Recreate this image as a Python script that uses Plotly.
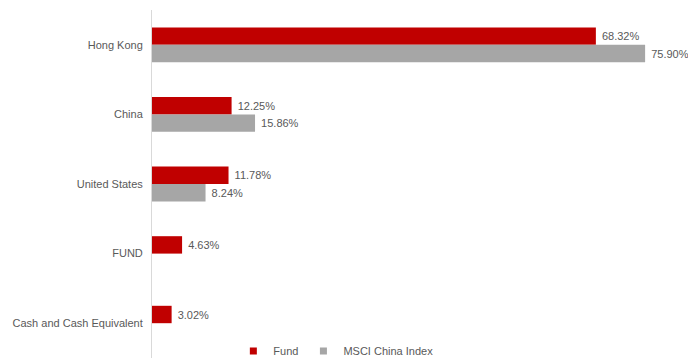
import plotly.graph_objects as go

categories = ["Hong Kong", "China", "United States", "FUND", "Cash and Cash Equivalent"]
fund_values = [68.32, 12.25, 11.78, 4.63, 3.02]
index_cats = ["Hong Kong", "China", "United States"]
index_values = [75.90, 15.86, 8.24]

FUND_COLOR = "#c00000"
INDEX_COLOR = "#a6a6a6"
TEXT_COLOR = "#595959"
FONT = "Liberation Sans, Arial"

fig = go.Figure()
fig.add_trace(go.Bar(
    y=categories, x=fund_values, orientation="h", name="Fund", showlegend=False,
    marker=dict(color=FUND_COLOR, line=dict(width=0)),
    texttemplate="\u00a0%{x:.2f}%", textposition="outside",
    textfont=dict(size=11, color=TEXT_COLOR, family=FONT),
    cliponaxis=False,
))
fig.add_trace(go.Bar(
    y=index_cats, x=index_values, orientation="h", name="MSCI China Index", showlegend=False,
    marker=dict(color=INDEX_COLOR, line=dict(width=0)),
    texttemplate="\u00a0%{x:.2f}%", textposition="outside",
    textfont=dict(size=11, color=TEXT_COLOR, family=FONT),
    cliponaxis=False,
))
# legend entries with small square markers
for name, color in [("Fund", FUND_COLOR), ("MSCI China Index", INDEX_COLOR)]:
    fig.add_trace(go.Scatter(
        x=[None], y=[None], mode="markers", name=name,
        marker=dict(symbol="square", size=7, color=color),
    ))

fig.update_layout(
    width=688, height=358,
    margin=dict(l=152, r=0, t=10, b=0, autoexpand=False),
    paper_bgcolor="white", plot_bgcolor="white",
    barmode="group", bargap=0.5, bargroupgap=0,
    font=dict(family=FONT, size=11, color=TEXT_COLOR),
    xaxis=dict(range=[0, 82.5], showgrid=False, zeroline=False, showticklabels=False,
               showline=False, ticks=""),
    yaxis=dict(categoryorder="array", categoryarray=categories, autorange="reversed",
               showgrid=False, zeroline=False, showline=True, linecolor="#d9d9d9",
               linewidth=1, ticks="", ticklabelstandoff=6,
               tickfont=dict(size=11, color=TEXT_COLOR)),
    legend=dict(orientation="h", x=0.343, xanchor="center", y=0.02, yanchor="middle",
                font=dict(size=11, color=TEXT_COLOR), bgcolor="rgba(0,0,0,0)",
                itemwidth=30, traceorder="normal", tracegroupgap=0),
    showlegend=True,
)

fig.write_html("out.html")
